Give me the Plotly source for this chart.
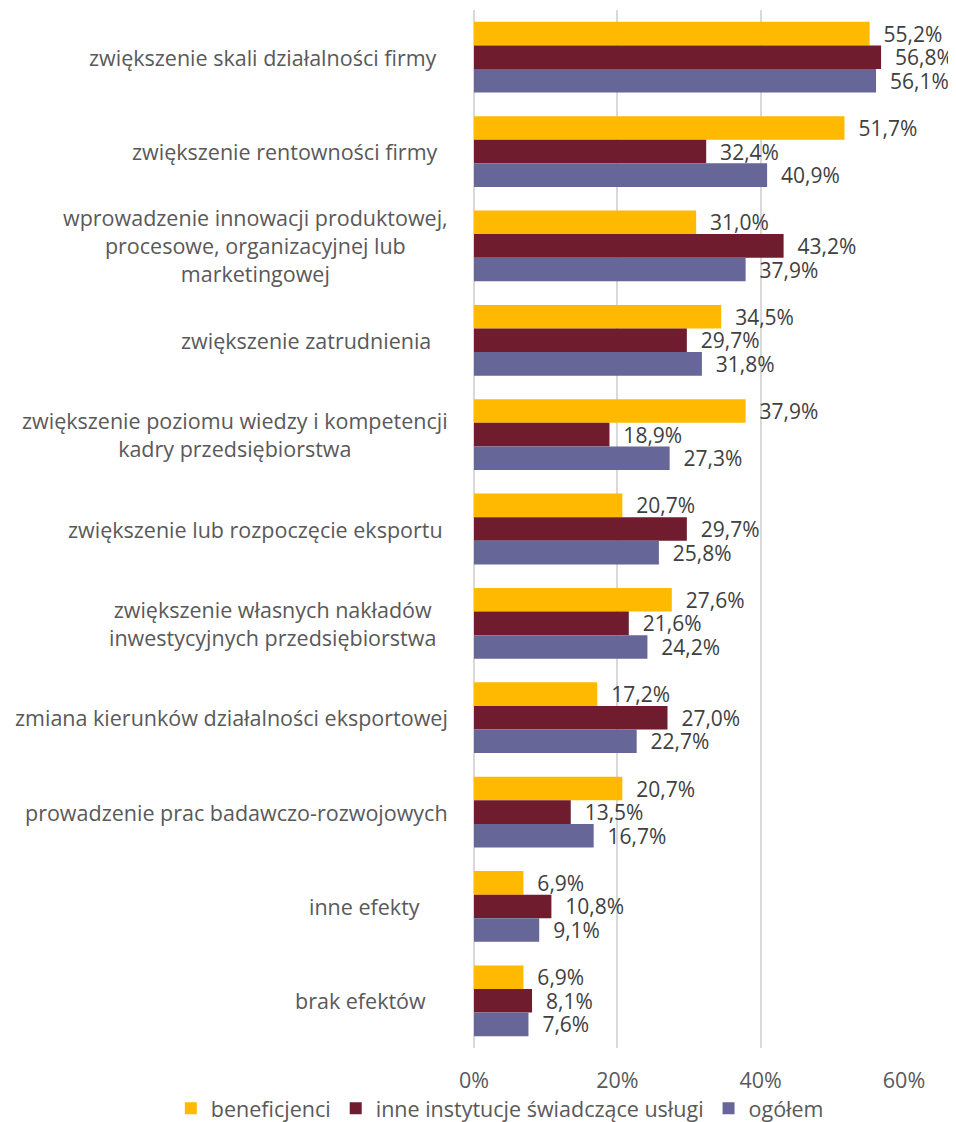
import plotly.graph_objects as go

CATEGORIES = [
    "zwiększenie skali działalności firmy  ",
    "zwiększenie rentowności firmy  ",
    "wprowadzenie innowacji produktowej,<br>procesowe, organizacyjnej lub<br>marketingowej",
    "zwiększenie zatrudnienia   ",
    "zwiększenie poziomu wiedzy i kompetencji<br>kadry przedsiębiorstwa",
    "zwiększenie lub rozpoczęcie eksportu ",
    "zwiększenie własnych nakładów  <br>inwestycyjnych przedsiębiorstwa  ",
    "zmiana kierunków działalności eksportowej",
    "prowadzenie prac badawczo-rozwojowych",
    "inne efekty     ",
    "brak efektów    ",
]

BENEFICJENCI = [55.2, 51.7, 31.0, 34.5, 37.9, 20.7, 27.6, 17.2, 20.7, 6.9, 6.9]
INNE_INSTYTUCJE = [56.8, 32.4, 43.2, 29.7, 18.9, 29.7, 21.6, 27.0, 13.5, 10.8, 8.1]
OGOLEM = [56.1, 40.9, 37.9, 31.8, 27.3, 25.8, 24.2, 22.7, 16.7, 9.1, 7.6]

X_TICKS = [0, 20, 40, 60]
X_TICK_LABELS = ["0%", "20%", "40%", "60%"]

SERIES = [
    ("beneficjenci", BENEFICJENCI, "#FFBA00"),
    ("inne instytucje świadczące usługi", INNE_INSTYTUCJE, "#6E1C2E"),
    ("ogółem", OGOLEM, "#666699"),
]

FONT = "Open Sans"
FSIZE = 21.5
LABEL_GREY = "#595959"
VALUE_GREY = "#404040"
GRID = "#D9D9D9"

fig = go.Figure()
for name, values, color in SERIES:
    fig.add_trace(go.Bar(
        y=CATEGORIES,
        x=values,
        name=name,
        orientation="h",
        marker=dict(color=color, line=dict(width=0)),
        texttemplate="\u00a0\u00a0%{x:.1f}%",
        textposition="outside",
        constraintext="none",
        textfont=dict(family=FONT, size=21, color=VALUE_GREY),
        cliponaxis=False,
        hovertemplate=name + ": %{x:.1f}%<extra></extra>",
    ))

# category labels as centred multi-line annotations (Excel style)
for cat in CATEGORIES:
    fig.add_annotation(
        x=0, xref="paper", y=cat, yref="y",
        text=cat, showarrow=False,
        xanchor="right", yanchor="middle", align="center",
        xshift=-24,
        font=dict(family=FONT, size=FSIZE, color=LABEL_GREY),
    )

# page body keeps an 8px margin, so the figure is 8px smaller than the window
fig.update_layout(
    width=948,
    height=1114,
    barmode="group",
    bargap=0.25,
    bargroupgap=0,
    separators=", ",
    plot_bgcolor="white",
    paper_bgcolor="white",
    font=dict(family=FONT, size=FSIZE, color=LABEL_GREY),
    margin=dict(l=466, r=52, t=2, b=74, autoexpand=False),
    xaxis=dict(
        range=[0, 60],
        tickvals=X_TICKS,
        ticktext=X_TICK_LABELS,
        showgrid=True,
        gridcolor=GRID,
        gridwidth=2,
        zeroline=True,
        zerolinecolor=GRID,
        zerolinewidth=2,
        showline=False,
        ticks="",
        ticklabelstandoff=17,
        tickfont=dict(family=FONT, size=FSIZE, color=LABEL_GREY),
        fixedrange=True,
    ),
    yaxis=dict(
        autorange="reversed",
        showticklabels=False,
        showgrid=False,
        zeroline=False,
        showline=False,
        ticks="",
        fixedrange=True,
    ),
    legend=dict(
        orientation="h",
        x=-0.705, xanchor="left",
        y=-0.058, yanchor="middle",
        font=dict(family=FONT, size=FSIZE, color=LABEL_GREY),
        itemwidth=30,
        traceorder="normal",
    ),
    showlegend=True,
)

fig.write_html("out.html")
